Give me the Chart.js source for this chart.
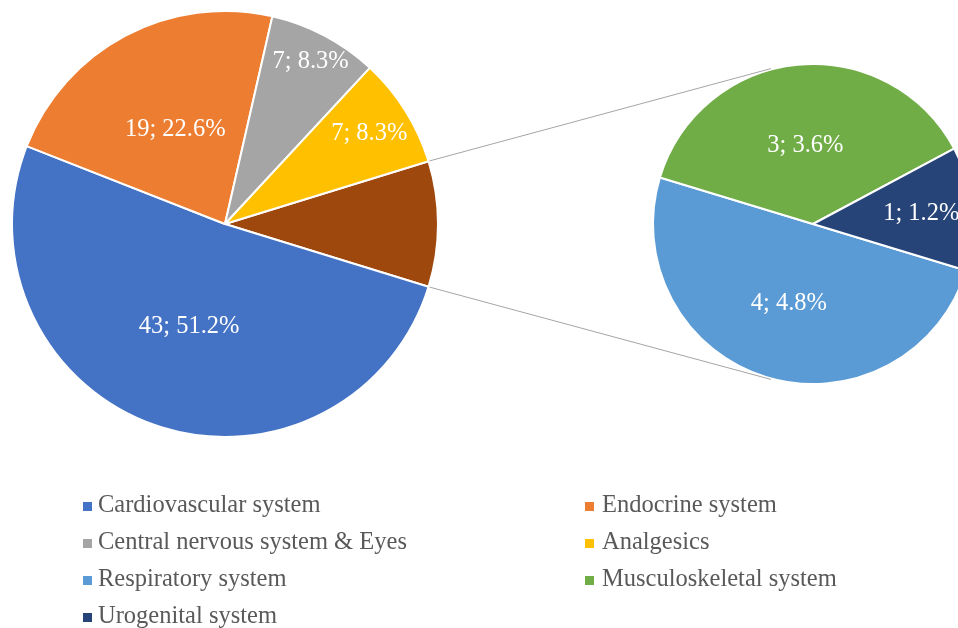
<!DOCTYPE html>
<html lang="en">
<head>
<meta charset="UTF-8">
<title>Pie of pie - drug classes</title>
<script src="https://cdn.jsdelivr.net/npm/chart.js"></script>
<style>
    html, body { margin: 0; padding: 0; background: #fff; }
    .wrap { position: relative; width: 958px; height: 628px; overflow: hidden; }
    .wrap canvas { position: absolute; left: 0; top: 0; }
    .legend-item {
        position: absolute;
        font-family: 'Liberation Serif', 'Times New Roman', serif;
        font-size: 24.5px;
        line-height: 24px;
        color: #595959;
        white-space: nowrap;
    }
    .legend-item .box { position: absolute; width: 9px; height: 9px; top: 10px; }
</style>
</head>
<body>
<div class="wrap" id="wrap">
    <canvas id="mainPie" width="990" height="628"></canvas>
    <canvas id="subPie" width="990" height="628"></canvas>
</div>
<script>
// data
const categories = ['Cardiovascular system', 'Endocrine system', 'Central nervous system & Eyes', 'Analgesics',
                    'Respiratory system', 'Musculoskeletal system', 'Urogenital system'];
const counts = [43, 19, 7, 7, 4, 3, 1];
const colors = ['#4472C4', '#ED7D31', '#A5A5A5', '#FFC000', '#5B9BD5', '#70AD47', '#264478'];
const otherColor = '#9E480E';
const secondPlotCount = 3; // last 3 values go into the small pie

const total = counts.reduce((a, b) => a + b, 0);
const mainCounts = counts.slice(0, counts.length - secondPlotCount);
const subCounts = counts.slice(counts.length - secondPlotCount);
const otherCount = subCounts.reduce((a, b) => a + b, 0);

// label placement (fraction of radius), index matches dataset order
const mainLabelFrac = [null, 0.51, 0.50, 0.86, 0.80];
const subLabelFrac = [0.52, 0.49, 0.68];

const labelFont = "24.5px 'Liberation Serif', 'Times New Roman', serif";

function fmt(v) {
    return v + '; ' + (v / total * 100).toFixed(1) + '%';
}

// draws "n; p%" inside each slice
function sliceLabels(fracs) {
    return {
        id: 'sliceLabels',
        afterDatasetsDraw(chart) {
            const ctx = chart.ctx;
            const meta = chart.getDatasetMeta(0);
            const values = chart.data.datasets[0].data;
            ctx.save();
            ctx.font = labelFont;
            ctx.fillStyle = '#fff';
            ctx.textAlign = 'center';
            ctx.textBaseline = 'middle';
            meta.data.forEach((arc, i) => {
                if (fracs[i] == null) return;
                const mid = (arc.startAngle + arc.endAngle) / 2;
                const r = arc.outerRadius * fracs[i];
                ctx.fillText(fmt(values[i]), arc.x + Math.cos(mid) * r, arc.y + Math.sin(mid) * r);
            });
            ctx.restore();
        }
    };
}

const mainChart = new Chart(document.getElementById('mainPie'), {
    type: 'pie',
    data: {
        labels: ['Other'].concat(categories.slice(0, mainCounts.length)),
        datasets: [{
            data: [otherCount].concat(mainCounts),
            backgroundColor: [otherColor].concat(colors.slice(0, mainCounts.length)),
            borderColor: '#fff',
            borderWidth: 2
        }]
    },
    options: {
        responsive: false,
        animation: false,
        rotation: 90 - (otherCount / total * 360) / 2,
        layout: { padding: { left: 11, top: 10, right: 551, bottom: 190 } },
        plugins: { legend: { display: false }, tooltip: { enabled: false } }
    },
    plugins: [sliceLabels(mainLabelFrac)]
});

// connector lines from the "other" slice to the small pie tangents
const connectors = {
    id: 'connectors',
    afterDraw(chart) {
        const other = mainChart.getDatasetMeta(0).data[0];
        const c = chart.getDatasetMeta(0).data[0];
        const R = c.outerRadius + 1;
        const ctx = chart.ctx;
        ctx.save();
        ctx.strokeStyle = '#A5A5A5';
        ctx.lineWidth = 1;
        [[other.startAngle, -1], [other.endAngle, 1]].forEach(([a, side]) => {
            const px = other.x + Math.cos(a) * (other.outerRadius + 1);
            const py = other.y + Math.sin(a) * (other.outerRadius + 1);
            const dx = px - c.x, dy = py - c.y;
            const d = Math.hypot(dx, dy);
            const base = Math.atan2(dy, dx);
            const t = base - side * Math.acos(R / d);
            ctx.beginPath();
            ctx.moveTo(px, py);
            ctx.lineTo(c.x + Math.cos(t) * R, c.y + Math.sin(t) * R);
            ctx.stroke();
        });
        ctx.restore();
    }
};

const subChart = new Chart(document.getElementById('subPie'), {
    type: 'pie',
    data: {
        labels: categories.slice(mainCounts.length),
        datasets: [{
            data: subCounts,
            backgroundColor: colors.slice(mainCounts.length),
            borderColor: '#fff',
            borderWidth: 2
        }]
    },
    options: {
        responsive: false,
        animation: false,
        rotation: 106.9,
        layout: { padding: { left: 652, top: 63, right: 16, bottom: 243 } },
        plugins: { legend: { display: false }, tooltip: { enabled: false } }
    },
    plugins: [sliceLabels(subLabelFrac), connectors]
});

// legend, two columns
const legendCols = [83, 585];
const legendTop = 492;
const legendStep = 37;
const wrap = document.getElementById('wrap');
categories.forEach((name, i) => {
    const item = document.createElement('div');
    item.className = 'legend-item';
    item.style.left = legendCols[i % 2] + 'px';
    item.style.top = (legendTop + Math.floor(i / 2) * legendStep) + 'px';
    item.style.paddingLeft = (i % 2 ? 17 : 15) + 'px';
    const box = document.createElement('span');
    box.className = 'box';
    box.style.left = '0px';
    box.style.background = colors[i];
    item.appendChild(box);
    item.appendChild(document.createTextNode(name));
    wrap.appendChild(item);
});
</script>
</body>
</html>
